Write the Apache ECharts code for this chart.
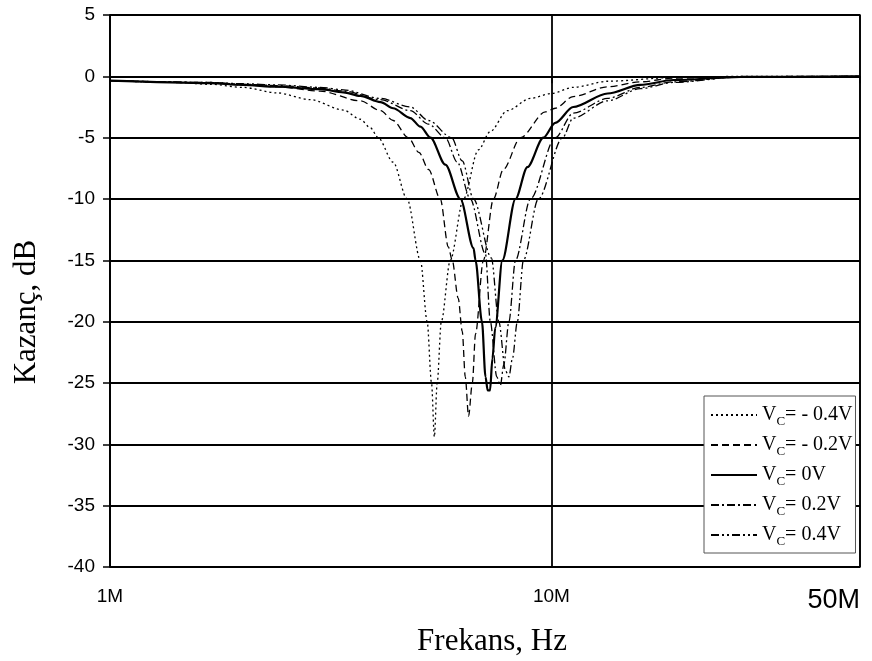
<!DOCTYPE html>
<html>
<head>
<meta charset="utf-8">
<script src="https://cdn.jsdelivr.net/npm/echarts@6/dist/echarts.min.js"></script>
<style>
  html, body { margin: 0; padding: 0; background: #fff; }
  #chart { width: 872px; height: 661px; }
</style>
</head>
<body>
<div id="chart"></div>
<script>
// Frequencies in MHz, gain in dB, one pair of arrays per control voltage
const freqNeg04 = [1.0, 1.41, 1.69, 2.0, 2.39, 2.84, 3.38, 3.69, 3.89, 4.05, 4.38, 4.71, 5.05, 5.23, 5.35, 5.43, 5.51, 5.63, 5.90, 6.32, 6.83, 7.27, 7.94, 8.96, 10.0, 11.2, 13.4, 18.9, 26.8, 50];
const gainNeg04 = [-0.35, -0.5, -0.65, -0.9, -1.35, -1.9, -2.75, -3.5, -4.2, -5.0, -7.0, -10.0, -15.0, -20.0, -25.0, -29.4, -25.0, -20.0, -15.0, -10.0, -6.0, -4.5, -2.8, -1.8, -1.4, -0.9, -0.4, -0.1, 0, 0];

const freqNeg02 = [1.0, 1.69, 2.0, 2.39, 2.99, 3.69, 4.10, 4.38, 4.74, 5.01, 5.27, 5.60, 5.84, 5.96, 6.15, 6.28, 6.38, 6.49, 6.62, 6.73, 7.01, 7.39, 7.78, 8.51, 9.69, 10.2, 11.2, 13.4, 15.9, 18.9, 26.8, 50];
const gainNeg02 = [-0.35, -0.55, -0.7, -0.85, -1.2, -2.0, -2.8, -3.6, -5.0, -6.2, -7.6, -10.0, -13.9, -15.0, -18.1, -20.8, -24.5, -27.7, -25.0, -21.0, -15.0, -10.0, -7.6, -5.0, -2.9, -2.6, -1.65, -0.85, -0.45, -0.15, -0.02, 0];

const freqZero = [1.0, 1.69, 2.0, 2.39, 2.99, 3.38, 3.69, 4.10, 4.38, 4.79, 5.05, 5.32, 5.75, 6.22, 6.66, 6.73, 6.96, 7.09, 7.17, 7.26, 7.35, 7.46, 7.74, 8.29, 8.82, 9.59, 10.2, 11.2, 13.4, 15.9, 18.9, 26.8, 50];
const gainZero = [-0.35, -0.55, -0.7, -0.85, -1.05, -1.3, -1.6, -2.1, -2.6, -3.4, -4.1, -5.0, -7.2, -10.0, -14.0, -15.0, -20.0, -24.5, -25.6, -25.6, -23.0, -20.5, -15.0, -10.0, -7.4, -5.0, -3.8, -2.5, -1.4, -0.7, -0.3, -0.05, 0];

const freqPos02 = [1.0, 1.69, 2.0, 2.39, 2.99, 3.38, 4.10, 4.79, 5.27, 5.75, 6.12, 6.55, 7.09, 7.27, 7.52, 7.66, 7.80, 8.01, 8.29, 8.96, 10.2, 11.2, 13.4, 15.9, 18.9, 26.8, 50];
const gainPos02 = [-0.35, -0.5, -0.65, -0.75, -0.95, -1.2, -1.9, -2.8, -3.9, -5.0, -7.0, -10.0, -14.5, -20.0, -24.5, -25.2, -23.5, -20.0, -15.0, -10.0, -5.0, -3.0, -1.8, -0.9, -0.45, -0.05, 0];

const freqPos04 = [1.0, 1.69, 2.0, 2.39, 2.99, 3.38, 4.10, 4.79, 5.27, 5.94, 6.28, 6.66, 7.31, 7.60, 7.87, 8.01, 8.16, 8.37, 8.64, 9.34, 10.6, 11.2, 13.4, 15.9, 18.9, 26.8, 50];
const gainPos04 = [-0.35, -0.5, -0.6, -0.7, -0.9, -1.1, -1.8, -2.5, -3.6, -5.0, -6.9, -10.0, -14.8, -20.0, -24.0, -24.5, -23.0, -20.0, -15.0, -10.0, -5.0, -3.4, -2.0, -1.0, -0.5, -0.05, 0];

// Legend suffixes after "V_C ="
const voltageLabels = ['- 0.4V', '- 0.2V', '0V', '0.2V', '0.4V'];

// Y axis settings (dB)
const yMin = -40, yMax = 5, yStep = 5;
// X axis ticks (Hz)
const xTicks = [1e6, 1e7, 5e7];

const curves = [
  { f: freqNeg04, g: gainNeg04, dash: [2, 3], width: 1.3 },
  { f: freqNeg02, g: gainNeg02, dash: [7, 4], width: 1.3 },
  { f: freqZero,  g: gainZero,  dash: 'solid', width: 2.2 },
  { f: freqPos02, g: gainPos02, dash: [8, 3, 2, 3], width: 1.3 },
  { f: freqPos04, g: gainPos04, dash: [8, 3, 2, 3, 2, 3], width: 1.3 }
];

const series = curves.map((c, i) => ({
  name: voltageLabels[i],
  type: 'line',
  showSymbol: false,
  symbol: 'none',
  smooth: 0.3,
  smoothMonotone: 'x',
  animation: false,
  data: c.f.map((v, k) => [v * 1e6, c.g[k]]),
  lineStyle: { color: '#000', width: c.width, type: c.dash },
  itemStyle: { color: '#000' },
  z: 3
}));

const chart = echarts.init(document.getElementById('chart'), null, { renderer: 'canvas' });

chart.setOption({
  backgroundColor: '#fff',
  animation: false,
  grid: {
    left: 110, right: 12, top: 15, bottom: 94,
    containLabel: false,
    outerBoundsMode: 'none',
    show: true, borderColor: '#000', borderWidth: 1.4, backgroundColor: 'transparent'
  },
  legend: {
    orient: 'vertical',
    left: 704, top: 396,
    padding: [9, 3, 5, 6],
    itemWidth: 46, itemHeight: 14, itemGap: 7,
    backgroundColor: '#fff',
    borderColor: '#555', borderWidth: 1,
    itemStyle: { opacity: 0 },
    data: voltageLabels,
    formatter: name => '{v|V}{s|C}{v|= ' + name + '}',
    textStyle: {
      color: '#000',
      rich: {
        v: { fontFamily: 'Liberation Serif', fontSize: 20, color: '#000', height: 20 },
        s: { fontFamily: 'Liberation Serif', fontSize: 13, color: '#000', padding: [13, 0, 0, 0] }
      }
    }
  },
  xAxis: {
    type: 'log',
    logBase: 10,
    min: 1e6, max: 5e7,
    name: 'Frekans, Hz',
    nameLocation: 'middle',
    nameGap: 59,
    nameTextStyle: { fontFamily: 'Liberation Serif', fontSize: 31, color: '#000', padding: [0, 0, 0, 14] },
    axisLine: { lineStyle: { color: '#000', width: 1.5 } },
    axisTick: { show: true, length: 7, customValues: xTicks, lineStyle: { color: '#000', width: 1.5 } },
    minorTick: { show: false },
    axisLabel: {
      customValues: xTicks,
      margin: 20,
      alignMaxLabel: 'right',
      fontFamily: 'Liberation Sans', fontSize: 19, color: '#000',
      formatter: v => {
        const m = Math.round(v / 1e6);
        return m === 50 ? '{big|' + m + 'M}' : m + 'M';
      },
      rich: { big: { fontFamily: 'Liberation Sans', fontSize: 27, color: '#000' } }
    },
    splitLine: { show: true, lineStyle: { color: '#000', width: 1.8 } }
  },
  yAxis: {
    type: 'value',
    min: yMin, max: yMax, interval: yStep,
    name: 'Kazanç, dB',
    nameLocation: 'middle',
    nameGap: 68,
    nameTextStyle: { fontFamily: 'Liberation Serif', fontSize: 31, color: '#000', padding: [0, 42, 0, 0] },
    axisLine: { show: true, lineStyle: { color: '#000', width: 1.5 } },
    axisTick: { show: true, length: 7, lineStyle: { color: '#000', width: 1.5 } },
    axisLabel: { margin: 15, fontFamily: 'Liberation Sans', fontSize: 19, color: '#000' },
    splitLine: { show: true, lineStyle: { color: '#000', width: 1.8 } }
  },
  series: series
});
</script>
</body>
</html>
